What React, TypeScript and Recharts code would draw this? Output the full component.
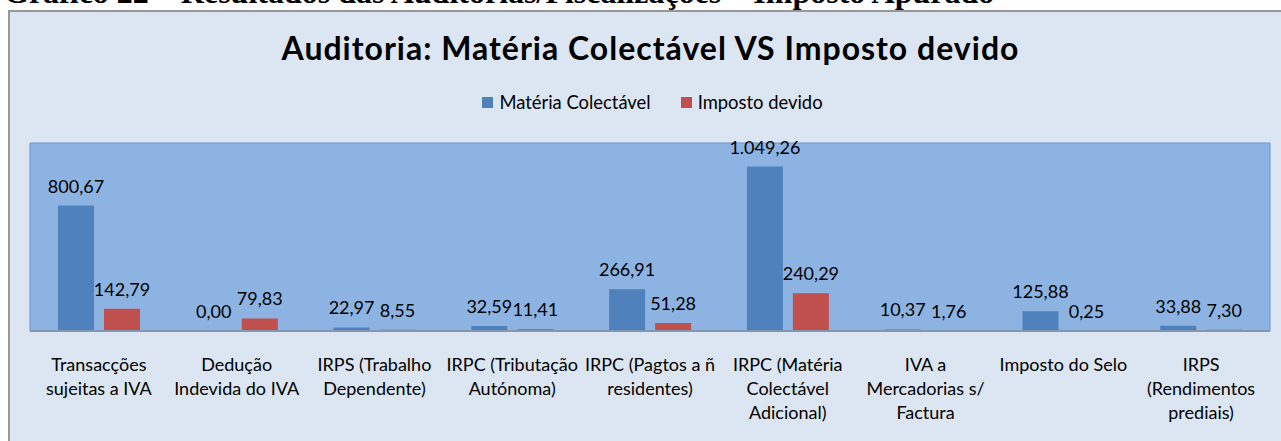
import React from 'react';
import {
  BarChart,
  Bar,
  XAxis,
  YAxis,
  Legend,
  LabelList,
  ReferenceArea,
} from 'recharts';

const categories = [
  'Transacções sujeitas a IVA',
  'Dedução Indevida do IVA',
  'IRPS (Trabalho Dependente)',
  'IRPC (Tributação Autónoma)',
  'IRPC (Pagtos a ñ residentes)',
  'IRPC (Matéria Colectável Adicional)',
  'IVA a Mercadorias s/ Factura',
  'Imposto do Selo',
  'IRPS (Rendimentos prediais)',
];

// how Excel wrapped each category label
const tickLines = [
  ['Transacções', 'sujeitas a IVA'],
  ['Dedução', 'Indevida do IVA'],
  ['IRPS (Trabalho', 'Dependente)'],
  ['IRPC (Tributação', 'Autónoma)'],
  ['IRPC (Pagtos a ñ', 'residentes)'],
  ['IRPC (Matéria', 'Colectável', 'Adicional)'],
  ['IVA a', 'Mercadorias s/', 'Factura'],
  ['Imposto do Selo'],
  ['IRPS', '(Rendimentos', 'prediais)'],
];

const materiaColectavel = [800.67, 0.0, 22.97, 32.59, 266.91, 1049.26, 10.37, 125.88, 33.88];
const impostoDevido = [142.79, 79.83, 8.55, 11.41, 51.28, 240.29, 1.76, 0.25, 7.3];

const data = categories.map((name, i) => ({
  name,
  materia: materiaColectavel[i],
  imposto: impostoDevido[i],
}));

const FONT = 'Lato, "Open Sans", sans-serif';
const BLUE = '#4F81BD';
const RED = '#C0504D';

function fmt(v: number) {
  const [int, dec] = v.toFixed(2).split('.');
  return int.replace(/\B(?=(\d{3})+(?!\d))/g, '.') + ',' + dec;
}

function renderValue(p: any) {
  const vb = p.viewBox || p;
  const x = Number(vb.x ?? p.x) + Number(vb.width ?? p.width) / 2;
  const y = Number(vb.y ?? p.y);
  return (
    <text x={x} y={y - 13} textAnchor="middle" fontSize={18} fontFamily={FONT} fill="#000">
      {fmt(Number(p.value ?? 0))}
    </text>
  );
}

function CategoryTick(props: any) {
  const { x, y, payload } = props;
  const idx = categories.indexOf(payload.value);
  const lines = tickLines[idx] || [payload.value];
  return (
    <text x={x} textAnchor="middle" fontSize={18} fontFamily={FONT} fill="#000">
      {lines.map((l, i) => (
        <tspan key={i} x={x} y={y + 40 + i * 24}>
          {l}
        </tspan>
      ))}
    </text>
  );
}

function LegendContent() {
  const items = [
    { label: 'Matéria Colectável', color: BLUE },
    { label: 'Imposto devido', color: RED },
  ];
  return (
    <div
      style={{
        display: 'flex',
        justifyContent: 'center',
        paddingLeft: 14,
        fontFamily: FONT,
        fontSize: 18.4,
        lineHeight: '20px',
        color: '#000',
      }}
    >
      {items.map((it, i) => (
        <div key={it.label} style={{ display: 'flex', alignItems: 'center', marginLeft: i ? 30 : 0 }}>
          <span style={{ width: 11, height: 11, background: it.color, marginRight: 6, display: 'inline-block' }} />
          <span>{it.label}</span>
        </div>
      ))}
    </div>
  );
}

export default function App() {
  return (
    <div style={{ position: 'absolute', left: 0, top: 0, width: 1281, height: 441, overflow: 'hidden', background: '#fff' }}>
      <div
        style={{
          position: 'absolute',
          left: 4,
          top: -24,
          fontFamily: '"Liberation Serif", serif',
          fontWeight: 700,
          fontSize: 32,
          lineHeight: '32px',
          whiteSpace: 'nowrap',
          color: '#000',
        }}
      >
        Gráfico 22 – Resultados das Auditorias/Fiscalizações – Imposto Apurado
      </div>
      <div
        style={{
          position: 'absolute',
          left: 8,
          top: 10,
          width: 1290,
          height: 450,
          border: '2px solid #979797',
          background: '#DCE6F2',
        }}
      >
        <div
          style={{
            position: 'absolute',
            left: 0,
            top: 21,
            width: 1281,
            textAlign: 'center',
            fontFamily: FONT,
            fontWeight: 700,
            fontSize: 32,
            letterSpacing: 1,
            lineHeight: '30px',
            color: '#000',
            whiteSpace: 'nowrap',
          }}
        >
          Auditoria: Matéria Colectável VS Imposto devido
        </div>
        <div style={{ position: 'absolute', left: 0, top: 0 }}>
          <BarChart
            width={1271}
            height={429}
            data={data}
            margin={{ top: 107, right: 11, left: 20, bottom: 10 }}
            barSize={36}
            barGap={10}
          >
            <ReferenceArea y1={0} y2={1200} fill="#8DB3E2" fillOpacity={1} stroke="#6C93CC" strokeWidth={1} />
            <XAxis
              dataKey="name"
              interval={0}
              height={100}
              tickSize={0}
              tickMargin={0}
              tickLine={false}
              axisLine={{ stroke: '#8497B0', strokeWidth: 2 }}
              tick={<CategoryTick />}
            />
            <YAxis hide domain={[0, 1200]} />
            <Legend
              verticalAlign="top"
              height={24}
              content={<LegendContent />}
              wrapperStyle={{ top: 80, left: 0, width: 1271 }}
            />
            {/* tiny minPointSize keeps the zero bar (and its label) in the chart */}
            <Bar dataKey="materia" name="Matéria Colectável" fill={BLUE} minPointSize={0.01} isAnimationActive={false}>
              <LabelList dataKey="materia" content={renderValue} />
            </Bar>
            <Bar dataKey="imposto" name="Imposto devido" fill={RED} minPointSize={0.01} isAnimationActive={false}>
              <LabelList dataKey="imposto" content={renderValue} />
            </Bar>
          </BarChart>
        </div>
      </div>
    </div>
  );
}
